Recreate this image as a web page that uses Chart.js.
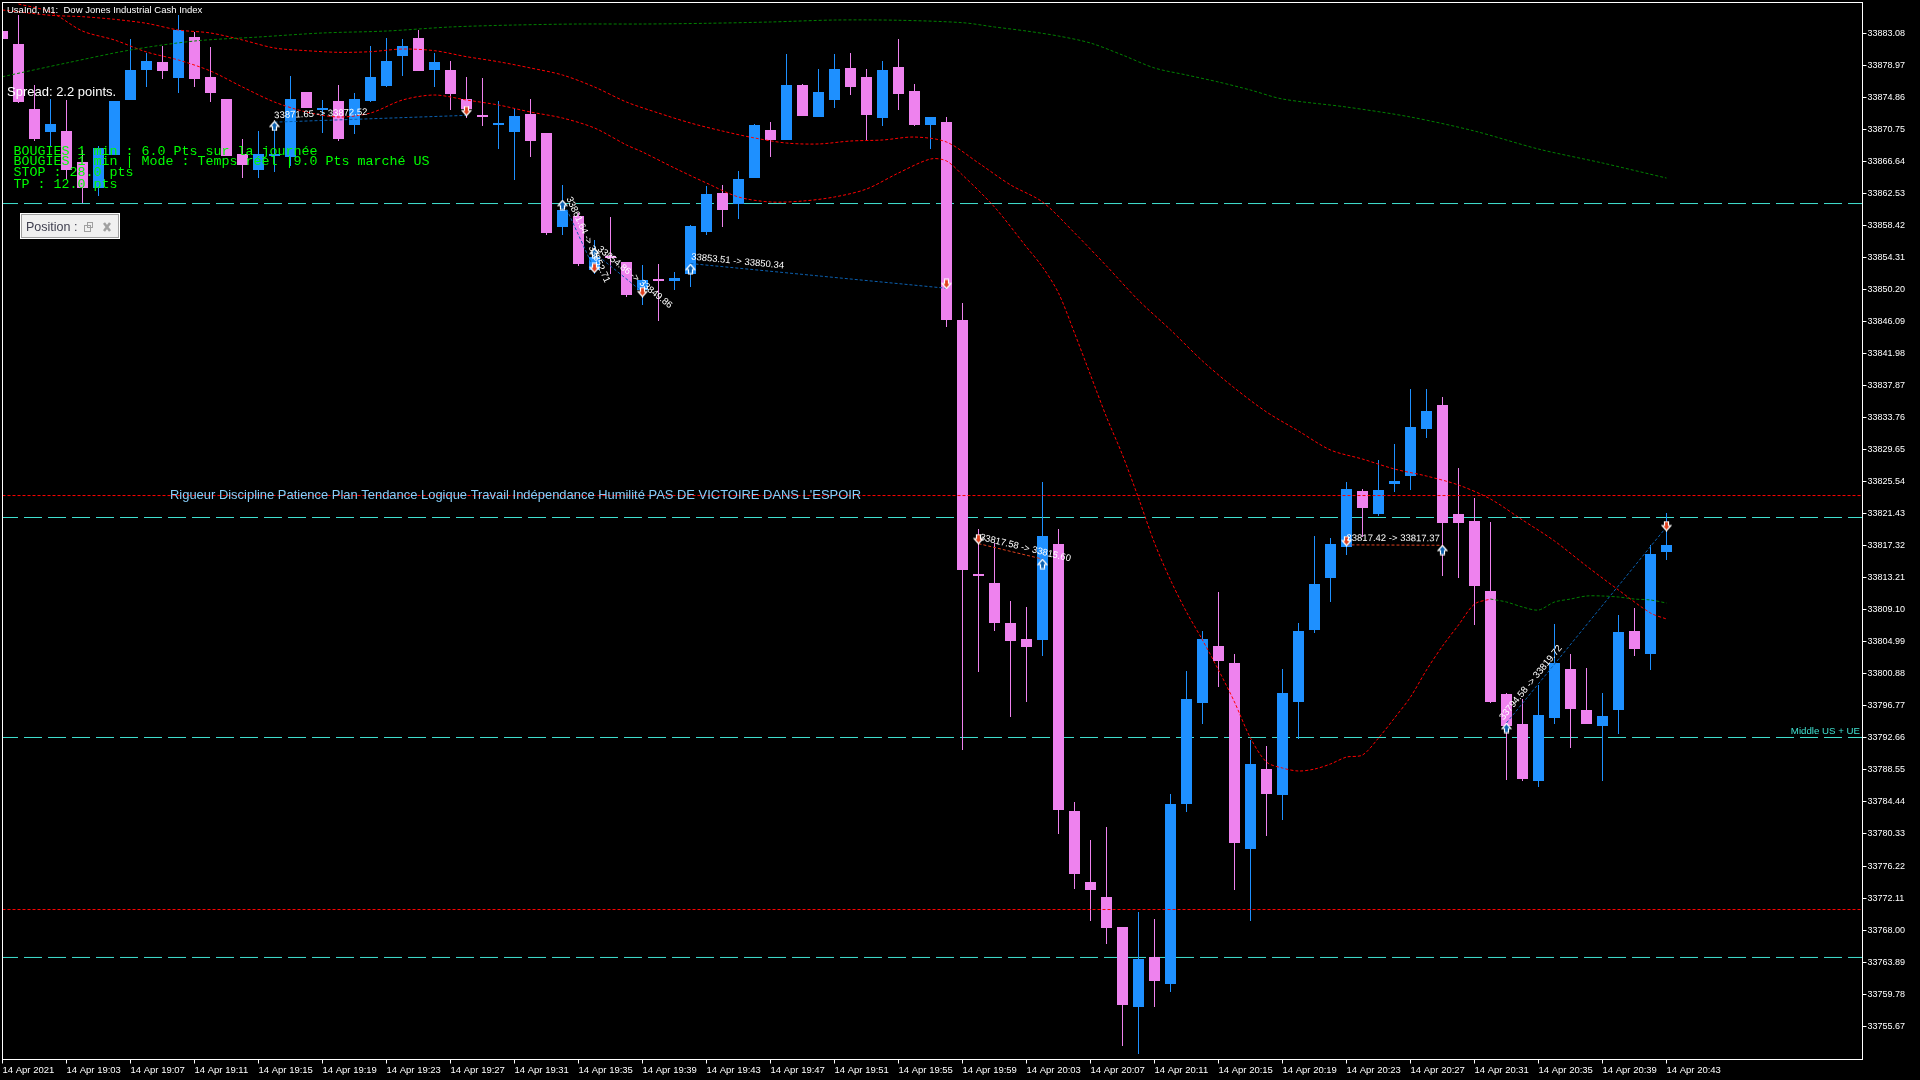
<!DOCTYPE html>
<html>
<head>
<meta charset="utf-8">
<title>UsaInd M1</title>
<style>
  html, body { margin: 0; padding: 0; background: #000; }
  canvas { display: block; }
</style>
<script src="https://cdn.jsdelivr.net/npm/chart.js@4"></script>
</head>
<body>
<canvas id="chart" width="1920" height="1080"></canvas>
<script>
// Candles, one entry per minute
const opens = [33883.34,33881.68,33873.34,33870.39,33870.51,33866.54,33863.20,33867.44,33874.49,33878.34,33879.37,33877.31,33882.57,33877.44,33874.62,33867.56,33865.51,33867.31,33867.18,33875.52,33873.21,33874.36,33871.28,33874.36,33876.29,33880.14,33882.44,33878.34,33878.34,33874.62,33872.57,33871.28,33870.39,33872.69,33870.26,33858.20,33859.61,33852.68,33854.48,33853.71,33850.12,33851.53,33851.27,33852.17,33857.56,33862.56,33861.15,33864.48,33870.64,33869.36,33876.42,33872.31,33874.49,33878.60,33877.44,33872.18,33878.72,33875.65,33871.28,33871.67,33846.27,33813.68,33812.53,33807.40,33805.34,33805.21,33817.53,33783.28,33774.17,33772.24,33768.40,33758.13,33764.55,33761.08,33784.17,33797.13,33804.44,33802.26,33778.40,33788.66,33785.33,33797.26,33806.50,33813.17,33817.14,33824.33,33821.38,33825.23,33826.25,33832.28,33835.36,33821.38,33820.48,33811.50,33798.29,33794.44,33787.13,33795.21,33801.49,33796.23,33794.18,33796.23,33806.37,33803.42,33816.50];
const highs = [33883.34,33885.40,33876.42,33874.62,33874.49,33868.08,33868.59,33874.36,33882.32,33880.52,33881.42,33885.40,33883.21,33881.29,33874.62,33869.49,33870.51,33871.54,33877.57,33875.52,33874.49,33876.42,33875.39,33881.42,33882.44,33882.32,33883.47,33880.52,33879.49,33877.44,33877.31,33874.36,33873.34,33874.62,33870.26,33863.59,33859.99,33856.53,33859.48,33853.71,33853.32,33853.45,33852.42,33858.45,33863.46,33863.59,33865.38,33871.41,33871.67,33880.39,33876.54,33878.47,33880.39,33880.52,33878.47,33879.49,33882.32,33876.54,33872.31,33872.31,33848.45,33819.45,33817.66,33810.22,33809.45,33825.48,33819.45,33784.43,33779.56,33781.22,33768.40,33770.32,33769.42,33785.46,33801.24,33806.37,33811.37,33803.42,33792.39,33791.62,33801.49,33807.40,33818.56,33818.30,33825.48,33824.59,33828.31,33830.36,33837.42,33837.42,33836.39,33827.28,33823.43,33820.35,33798.41,33797.65,33799.44,33807.27,33803.42,33801.62,33798.41,33808.42,33809.32,33817.40,33821.51];
const lows = [33882.32,33874.11,33869.23,33868.46,33864.23,33861.28,33862.18,33867.44,33874.49,33876.16,33877.19,33875.39,33876.16,33874.23,33867.31,33864.48,33864.48,33865.25,33866.02,33873.46,33870.26,33869.23,33870.13,33874.23,33876.16,33877.57,33878.21,33876.16,33873.21,33872.18,33871.16,33868.20,33864.23,33867.18,33857.17,33857.17,33853.19,33852.17,33852.17,33849.22,33848.19,33846.14,33850.12,33850.50,33857.17,33858.20,33859.22,33864.48,33867.18,33869.36,33872.44,33872.31,33873.46,33875.13,33869.36,33871.16,33873.21,33871.16,33868.20,33845.37,33791.10,33801.11,33806.37,33795.34,33797.26,33803.16,33780.33,33773.27,33769.16,33766.21,33753.13,33752.10,33758.13,33760.06,33783.15,33794.44,33799.18,33773.14,33769.16,33780.07,33782.12,33792.51,33806.11,33810.09,33816.12,33818.43,33821.12,33824.20,33824.46,33831.13,33813.42,33813.17,33807.14,33797.13,33787.25,33787.13,33786.36,33794.44,33791.36,33794.44,33787.13,33793.16,33803.16,33801.37,33815.48];
const closes = [33882.32,33874.23,33869.49,33871.41,33865.51,33863.20,33868.33,33874.36,33878.34,33879.49,33878.21,33883.47,33877.19,33875.39,33867.31,33866.15,33867.56,33867.56,33874.62,33873.46,33873.46,33869.49,33874.62,33877.44,33879.49,33881.42,33878.21,33879.37,33875.26,33873.34,33872.31,33871.54,33872.44,33869.23,33857.43,33860.38,33853.45,33854.35,33854.22,33849.47,33851.40,33851.27,33851.66,33858.33,33862.43,33860.38,33864.36,33871.28,33869.36,33876.42,33872.44,33875.52,33878.47,33876.16,33872.57,33878.34,33875.26,33871.28,33872.31,33846.27,33814.19,33813.42,33807.40,33805.09,33804.32,33818.56,33783.41,33775.19,33773.14,33768.27,33758.39,33764.29,33761.47,33784.17,33797.65,33805.34,33802.52,33779.17,33789.31,33785.46,33798.41,33806.37,33812.40,33817.53,33824.59,33822.15,33824.46,33825.61,33832.54,33834.59,33820.22,33820.22,33812.14,33797.26,33794.18,33787.38,33795.59,33802.26,33796.36,33794.44,33795.46,33806.24,33804.06,33816.25,33817.40];

// Moving averages: candle index and value
const longMaX = [0,4,8,12,16,20,24,28,32,36,40,44,48,52,56,60,62,64,66,68,70,72,74,76,78,80,84,88,92,96,100,104];
const longMaY = [33877.48,33879.24,33880.91,33882.06,33882.57,33883.09,33883.34,33883.86,33884.11,33884.24,33884.24,33884.33,33884.50,33884.75,33884.72,33884.41,33883.86,33883.34,33882.70,33881.80,33880.26,33878.60,33877.70,33876.80,33875.77,33874.62,33873.59,33872.31,33870.51,33868.20,33866.41,33864.48];
const midMaX = [0,3,5,7,9,11,13,15,17,19,21,23,25,27,29,31,33,35,37,39,41,43,45,47,49,51,53,55,57,59,61,63,65,67,69,71,73,75,77,79,81,83,85,87,89,91,93,95,97,99,101,103,104];
const midMaY = [33886.04,33885.36,33885.18,33884.84,33884.33,33883.47,33883.09,33882.19,33881.16,33880.82,33880.61,33880.69,33881.03,33880.82,33880.05,33879.40,33878.60,33877.70,33876.16,33874.23,33872.82,33871.54,33870.51,33869.62,33868.97,33868.85,33869.23,33869.36,33869.74,33869.10,33866.41,33863.60,33861.41,33857.45,33853.20,33848.80,33845.00,33841.01,33837.54,33834.47,33832.03,33829.59,33828.43,33827.15,33826.25,33825.10,33823.30,33820.61,33817.92,33814.71,33811.63,33808.68,33807.91];
const fastMaX = [1,3,5,7,9,11,13,15,17,19,21,23,25,27,29,31,33,35,37,39,40,42,44,46,48,50,52,54,56,58,59,60,62,64,65,66,67,68,69,70,71,72,73,74,75,76,77,78,79,80,81,82,83,84,85,86,87,88,89,90,91,92,93];
const fastMaY = [33886.81,33885.78,33883.34,33882.19,33880.65,33879.62,33878.21,33876.16,33874.23,33872.95,33872.31,33872.82,33874.49,33875.13,33874.49,33873.85,33872.95,33872.18,33870.90,33868.72,33867.82,33865.77,33863.84,33862.05,33861.41,33861.53,33862.05,33863.07,33865.13,33866.92,33866.67,33864.87,33860.76,33855.63,33853.07,33849.73,33844.60,33839.21,33833.82,33828.95,33823.43,33817.66,33812.91,33808.81,33805.21,33801.37,33797.26,33792.64,33789.56,33788.79,33788.41,33788.66,33789.31,33790.20,33790.46,33792.64,33795.21,33797.90,33801.37,33804.44,33807.14,33809.83,33810.47];
const fastUpX = [93,94,95,96,97,98,99,100,101,102,103,104];
const fastUpY = [33810.47,33810.09,33809.45,33809.06,33810.09,33810.47,33810.86,33810.86,33810.73,33810.47,33810.35,33809.96];

// Horizontal levels
const dashedLevels = [33861.21,33820.93,33792.71,33764.49];
const dottedLevels = [33823.75,33770.64];

// Closed trades
const tradeFrom = [17,35,37,43,61,84,94];
const tradeTo = [29,37,40,59,65,90,104];
const tradeEntry = [33871.65,33861.64,33854.86,33853.51,33817.58,33817.42,33794.58];
const tradeExit = [33872.52,33852.71,33849.86,33850.34,33815.60,33817.37,33819.72];
const tradeSide = ['buy','buy','buy','buy','sell','sell','buy'];

// Trade arrows
const upArrowX = [17,35,37,43,65,90,94];
const upArrowY = [33871.16,33861.02,33854.86,33852.81,33814.96,33816.76,33793.92];
const downArrowX = [29,37,40,59,61,84,104];
const downArrowY = [33873.08,33852.94,33849.86,33850.89,33818.17,33817.91,33819.84];

// Axis ticks
const yTicks = [33883.08,33878.97,33874.86,33870.75,33866.64,33862.53,33858.42,33854.31,33850.20,33846.09,33841.98,33837.87,33833.76,33829.65,33825.54,33821.43,33817.32,33813.21,33809.10,33804.99,33800.88,33796.77,33792.66,33788.55,33784.44,33780.33,33776.22,33772.11,33768.00,33763.89,33759.78,33755.67];
const xTickLabels = ['14 Apr 2021','14 Apr 19:03','14 Apr 19:07','14 Apr 19:11','14 Apr 19:15','14 Apr 19:19','14 Apr 19:23','14 Apr 19:27','14 Apr 19:31','14 Apr 19:35','14 Apr 19:39','14 Apr 19:43','14 Apr 19:47','14 Apr 19:51','14 Apr 19:55','14 Apr 19:59','14 Apr 20:03','14 Apr 20:07','14 Apr 20:11','14 Apr 20:15','14 Apr 20:19','14 Apr 20:23','14 Apr 20:27','14 Apr 20:31','14 Apr 20:35','14 Apr 20:39','14 Apr 20:43'];

const UP_COLOR = '#1E90FF';
const DOWN_COLOR = '#EE82EE';
const AXIS_FONT = "'Liberation Sans', sans-serif";
const LAST_X = 116.25; // empty room right of the last candle

const index = opens.map((v, i) => i);
const candleColors = opens.map((o, i) => (closes[i] >= o ? UP_COLOR : DOWN_COLOR));

function points(xs, ys) {
  return xs.map((x, i) => ({ x: x, y: ys[i] }));
}

function lineSet(data, color, dash, order) {
  return { type: 'line', data: data, borderColor: color, borderWidth: 1, borderDash: dash, pointRadius: 0, tension: 0, order: order };
}

function maSet(xs, ys, color) {
  const set = lineSet(points(xs, ys), color, [3, 2], 3);
  set.tension = 0.3;
  return set;
}

// Small arrow pictures for the trade marks
function arrowIcon(fill, up) {
  const c = document.createElement('canvas');
  c.width = 11;
  c.height = 11;
  const ctx = c.getContext('2d');
  if (!up) { ctx.translate(0, 11); ctx.scale(1, -1); }
  ctx.beginPath();
  ctx.moveTo(5.5, 1);
  ctx.lineTo(10, 6);
  ctx.lineTo(7.5, 6);
  ctx.lineTo(7.5, 10);
  ctx.lineTo(3.5, 10);
  ctx.lineTo(3.5, 6);
  ctx.lineTo(1, 6);
  ctx.closePath();
  ctx.fillStyle = fill;
  ctx.fill();
  ctx.strokeStyle = '#fff';
  ctx.lineWidth = 1.2;
  ctx.stroke();
  return c;
}

function arrowSet(xs, ys, fill, up) {
  return { type: 'line', data: points(xs, ys), showLine: false, pointStyle: arrowIcon(fill, up), order: 1 };
}

// The chart area must stay where the frame is: no room for half labels
function noPadding(scale) {
  scale.paddingLeft = 0;
  scale.paddingRight = 0;
  scale.paddingTop = 0;
  scale.paddingBottom = 0;
}

const datasets = [];
dashedLevels.forEach(level => {
  const set = lineSet(points([0, LAST_X], [level, level]), '#40E0D0', [18, 6], 12);
  set.borderDashOffset = 2.5;
  datasets.push(set);
});
datasets.push({ type: 'bar', data: points(index, lows.map((l, i) => [l, highs[i]])), backgroundColor: candleColors, barThickness: 1, grouped: false, inflateAmount: 0, order: 11 });
datasets.push({ type: 'bar', data: points(index, opens.map((o, i) => [o, closes[i]])), backgroundColor: candleColors, barThickness: 11, grouped: false, inflateAmount: 0, order: 10 });
dottedLevels.forEach(level => {
  datasets.push(lineSet(points([0, LAST_X], [level, level]), '#FF0000', [3, 2], 4));
});
datasets.push(maSet(longMaX, longMaY, '#008000'));
datasets.push(maSet(midMaX, midMaY, '#FF0000'));
datasets.push(maSet(fastMaX, fastMaY, '#FF0000'));
datasets.push(maSet(fastUpX, fastUpY, '#008000'));
tradeFrom.forEach((from, i) => {
  const color = tradeSide[i] === 'buy' ? '#0B60B0' : '#E0401E';
  datasets.push(lineSet(points([from, tradeTo[i]], [tradeEntry[i], tradeExit[i]]), color, [3, 2], 2));
});
datasets.push(arrowSet(upArrowX, upArrowY, '#0B60B0', true));
datasets.push(arrowSet(downArrowX, downArrowY, '#E0401E', false));

// Everything the terminal writes on top of the chart
const overlay = {
  id: 'overlay',
  afterDraw(chart) {
    const ctx = chart.ctx;
    const area = chart.chartArea;
    const xs = chart.scales.x;
    const ys = chart.scales.y;
    ctx.save();

    ctx.strokeStyle = '#fff';
    ctx.lineWidth = 1;
    ctx.setLineDash([]);
    ctx.strokeRect(area.left, area.top, area.right - area.left, area.bottom - area.top);

    ctx.textBaseline = 'alphabetic';
    ctx.textAlign = 'left';
    ctx.fillStyle = '#fff';
    ctx.font = '9.5px ' + AXIS_FONT;
    ctx.fillText('UsaInd, M1:  Dow Jones Industrial Cash Index', 7, 13);

    // trade captions follow their line
    tradeFrom.forEach((from, i) => {
      const x0 = xs.getPixelForValue(from);
      const y0 = ys.getPixelForValue(tradeEntry[i]);
      const x1 = xs.getPixelForValue(tradeTo[i]);
      const y1 = ys.getPixelForValue(tradeExit[i]);
      ctx.save();
      ctx.translate(x0, y0);
      ctx.rotate(Math.atan2(y1 - y0, x1 - x0));
      ctx.fillStyle = '#fff';
      ctx.font = '9.5px ' + AXIS_FONT;
      ctx.fillText(tradeEntry[i].toFixed(2) + ' -> ' + tradeExit[i].toFixed(2), 0, -4);
      ctx.restore();
    });

    ctx.fillStyle = '#fff';
    ctx.font = "13px 'Liberation Sans', sans-serif";
    ctx.fillText('Spread: 2.2 points.', 7, 96);

    ctx.fillStyle = '#00FF00';
    ctx.font = "13.33px 'Liberation Mono', monospace";
    ctx.fillText('BOUGIES 1 min : 6.0 Pts sur la journée', 13.5, 155);
    ctx.fillText('BOUGIES 1 min | Mode : Temps réel |9.0 Pts marché US', 13.5, 165);
    ctx.fillText('STOP : 28.0 pts', 13.5, 176);
    ctx.fillText('TP : 12.0 pts', 13.5, 188);

    ctx.fillStyle = '#87CEFA';
    ctx.font = "12.95px 'Liberation Sans', sans-serif";
    ctx.fillText("Rigueur Discipline Patience Plan Tendance Logique Travail Indépendance Humilité PAS DE VICTOIRE DANS L'ESPOIR", 170, 499);

    ctx.fillStyle = '#40E0D0';
    ctx.font = '9.7px ' + AXIS_FONT;
    ctx.textAlign = 'right';
    ctx.fillText('Middle US + UE', 1860, 734);
    ctx.textAlign = 'left';

    // "Position" panel
    ctx.fillStyle = '#fff';
    ctx.fillRect(20, 213, 100, 26);
    ctx.fillStyle = '#F0F0F0';
    ctx.fillRect(22, 215, 96, 22);
    ctx.strokeStyle = '#A0A0A0';
    ctx.strokeRect(21.5, 214.5, 97, 23);
    ctx.save();
    ctx.beginPath();
    ctx.rect(22, 215, 58, 22);
    ctx.clip();
    ctx.fillStyle = '#404050';
    ctx.font = "12.5px 'Liberation Sans', sans-serif";
    ctx.fillText('Position : ', 26, 231);
    ctx.restore();
    ctx.strokeStyle = '#A0A0A0';
    ctx.strokeRect(84.5, 225.5, 6, 6);
    ctx.strokeRect(87.5, 222.5, 5, 5);
    ctx.lineWidth = 2.5;
    ctx.beginPath();
    ctx.moveTo(104, 223); ctx.lineTo(110, 231);
    ctx.moveTo(110, 223); ctx.lineTo(104, 231);
    ctx.stroke();

    ctx.restore();
  }
};

new Chart(document.getElementById('chart'), {
  type: 'bar',
  data: { datasets: datasets },
  plugins: [overlay],
  options: {
    responsive: false,
    animation: false,
    events: [],
    layout: { autoPadding: false, padding: { left: 2.5, top: 2.5, right: 0, bottom: 0 } },
    plugins: { legend: { display: false }, tooltip: { enabled: false }, title: { display: false } },
    scales: {
      x: {
        type: 'linear',
        offset: false,
        min: 0,
        max: LAST_X,
        afterFit(scale) { scale.height = 20.5; noPadding(scale); },
        afterBuildTicks(scale) { scale.ticks = xTickLabels.map((t, i) => ({ value: i * 4 })); },
        border: { display: false },
        grid: { offset: false, drawOnChartArea: false, color: '#fff', tickColor: '#fff', tickLength: 4 },
        ticks: {
          color: '#fff',
          font: { family: AXIS_FONT, size: 9.5 },
          padding: 1,
          align: 'start',
          autoSkip: false,
          maxRotation: 0,
          minRotation: 0,
          callback: value => xTickLabels[value / 4]
        }
      },
      y: {
        type: 'linear',
        position: 'right',
        min: 33751.4,
        max: 33887,
        afterFit(scale) { scale.width = 57.5; noPadding(scale); },
        afterBuildTicks(scale) { scale.ticks = yTicks.map(v => ({ value: v })); },
        border: { display: false },
        grid: { drawOnChartArea: false, color: '#fff', tickColor: '#fff', tickLength: 4 },
        ticks: {
          color: '#fff',
          font: { family: AXIS_FONT, size: 9 },
          padding: 1,
          autoSkip: false,
          callback: value => value.toFixed(2)
        }
      }
    }
  }
});
</script>
</body>
</html>
